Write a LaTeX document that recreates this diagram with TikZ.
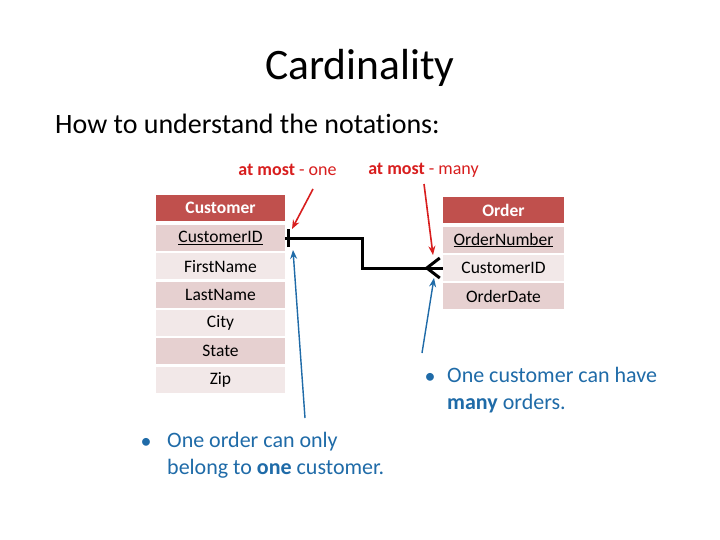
\documentclass[tikz,border=0pt]{standalone}
\usepackage{fontspec}
\setmainfont{Carlito}[Ligatures=NoCommon]
\usetikzlibrary{arrows.meta}

\definecolor{hdrred}{HTML}{C0504D}
\definecolor{rowdark}{HTML}{E6D0D0}
\definecolor{rowlight}{HTML}{F2E8E8}
\definecolor{notered}{HTML}{D81E1E}
\definecolor{noteblue}{HTML}{1F6BA8}

\tikzset{
  tblhead/.style={fill=hdrred, text=white, font=\fontsize{17.5}{20}\selectfont\bfseries,
    minimum height=26pt, inner sep=0pt},
  tblrow/.style={minimum height=26pt, inner sep=0pt, font=\fontsize{17.5}{20}\selectfont},
  relline/.style={line width=3pt, black},
  redarrow/.style={notered, line width=1.6pt, -{Stealth[length=9pt,width=7pt]}},
  bluearrow/.style={noteblue, line width=1.4pt, -{Stealth[length=9pt,width=7pt]}},
  rednote/.style={notered, font=\fontsize{18}{20}\selectfont},
  bullettext/.style={noteblue, align=left, anchor=north west, inner sep=0pt,
    font=\fontsize{22}{27}\selectfont}
}

\begin{document}
\begin{tikzpicture}[x=1pt, y=-1pt]
  \useasboundingbox[fill=white] (0,0) rectangle (720,540);

  % Title and subtitle
  \node (title) at (360,68) {\fontsize{43.5}{50}\selectfont Cardinality};
  \node[anchor=west, inner sep=0pt] (subtitle) at (55,124) {\fontsize{28}{32}\selectfont How to understand the notations:};

  % Customer table
  \node[tblhead, minimum width=129pt] (cust) at (220.5,208) {Customer};
  \node[tblrow, minimum width=129pt, fill=rowdark] (custid) at (220.5,238) {\underline{CustomerID}};
  \node[tblrow, minimum width=129pt, fill=rowlight] (fname) at (220.5,266.3) {FirstName};
  \node[tblrow, minimum width=129pt, fill=rowdark] (lname) at (220.5,294.6) {LastName};
  \node[tblrow, minimum width=129pt, fill=rowlight] (city) at (220.5,322.9) {City};
  \node[tblrow, minimum width=129pt, fill=rowdark] (state) at (220.5,351.2) {State};
  \node[tblrow, minimum width=129pt, fill=rowlight] (zip) at (220.5,379.5) {Zip};

  % Order table
  \node[tblhead, minimum width=121pt] (order) at (503.5,210) {Order};
  \node[tblrow, minimum width=121pt, fill=rowdark] (ordnum) at (503.5,240) {\underline{OrderNumber}};
  \node[tblrow, minimum width=121pt, fill=rowlight] (ordcid) at (503.5,268) {CustomerID};
  \node[tblrow, minimum width=121pt, fill=rowdark] (orddate) at (503.5,296) {OrderDate};

  % Relationship line: one side tick, many side crow's foot
  \draw[relline] (custid.east) -- ++(77,0) |- (ordcid.west);
  \draw[relline] ([xshift=3pt, yshift=-9pt]custid.east) -- ([xshift=3pt, yshift=9pt]custid.east);
  \draw[relline] ([xshift=-3pt, yshift=-10pt]ordcid.west) -- ([xshift=-16pt]ordcid.west)
    -- ([xshift=-3pt, yshift=10pt]ordcid.west);

  % Red notation labels
  \node[rednote] (one) at (287.5,170) {\textbf{at most} - one};
  \node[rednote] (many) at (423.5,170) {\textbf{at most} - many};
  \coordinate (onetip) at (292,229);
  \coordinate (manytip) at (433,255);
  \draw[redarrow] (313,189) -- (onetip);
  \draw[redarrow] (424,184) -- (manytip);

  % Blue explanations
  \node[noteblue, font=\fontsize{22}{27}\selectfont] (b1) at (430,378) {\textbullet};
  \node[bullettext] (manytxt) at (447,367) {One customer can have\\\textbf{many} orders.};
  \node[noteblue, font=\fontsize{22}{27}\selectfont] (b2) at (146,443) {\textbullet};
  \node[bullettext] (onetxt) at (167,432) {One order can only\\belong to \textbf{one} customer.};
  \coordinate (onebase) at (305,418);
  \coordinate (manybase) at (422,353);
  \draw[bluearrow] (onebase) -- (293,250);
  \draw[bluearrow] (manybase) -- (434,278);
\end{tikzpicture}
\end{document}
